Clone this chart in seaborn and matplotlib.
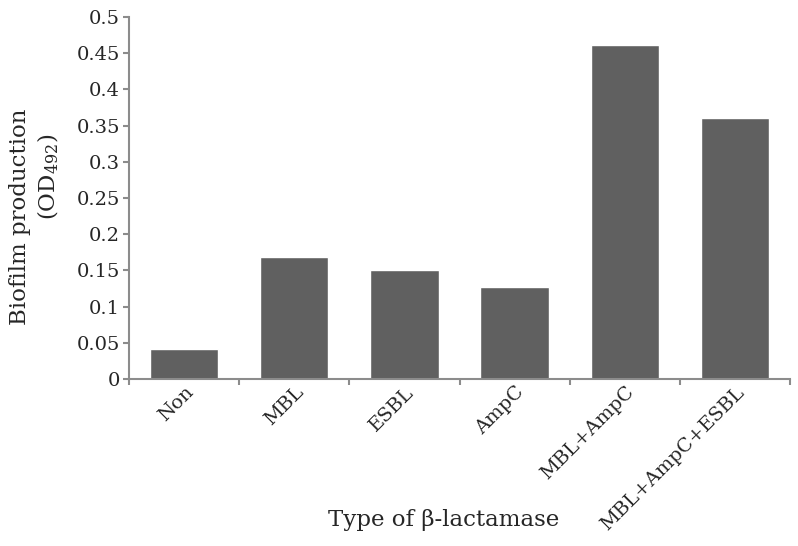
import numpy as np
import pandas as pd
import matplotlib
matplotlib.use('Agg')
import matplotlib.pyplot as plt
import matplotlib.transforms as mtransforms
import seaborn as sns

# ── Data ──────────────────────────────────────────────
categories = ['Non', 'MBL', 'ESBL', 'AmpC', 'MBL+AmpC', 'MBL+AmpC+ESBL']
biofilm_od = [0.042, 0.168, 0.151, 0.127, 0.461, 0.360]
y_ticks = [0, 0.05, 0.1, 0.15, 0.2, 0.25, 0.3, 0.35, 0.4, 0.45, 0.5]
y_tick_labels = ['0', '0.05', '0.1', '0.15', '0.2', '0.25', '0.3', '0.35', '0.4', '0.45', '0.5']

df = pd.DataFrame({'type': categories, 'od': biofilm_od})

sns.set_theme(style='white')
plt.rcParams['font.family'] = ['DejaVu Serif']
plt.rcParams['mathtext.fontset'] = 'dejavuserif'

axis_grey = '#8c8c8c'

fig = plt.figure(figsize=(7.98, 5.46), dpi=100)
ax = fig.add_axes([0.1617, 0.3059, 0.8283, 0.663])

sns.barplot(data=df, x='type', y='od', color='#606060', saturation=1,
            width=0.62, ax=ax)

ax.set_xlim(-0.5, len(categories) - 0.5)
ax.set_ylim(0, 0.5)
ax.set_yticks(y_ticks)
ax.set_yticklabels(y_tick_labels, fontsize=14)

# category labels at centres, tick marks at boundaries
ax.set_xticks(np.arange(len(categories)))
ax.set_xticklabels(categories, rotation=45, ha='right', rotation_mode='anchor',
                   fontsize=14)
shift = mtransforms.ScaledTranslation(12 / 100, 0, fig.dpi_scale_trans)
for lab in ax.get_xticklabels():
    lab.set_transform(lab.get_transform() + shift)
ax.set_xticks(np.arange(len(categories) + 1) - 0.5, minor=True)
ax.tick_params(axis='x', which='major', length=0, pad=3)
ax.tick_params(axis='x', which='minor', length=4.5, width=1.5, color=axis_grey,
               direction='out', bottom=True)
ax.tick_params(axis='y', length=4.5, width=1.5, color=axis_grey, direction='out',
               left=True, pad=2)

for side in ['top', 'right']:
    ax.spines[side].set_visible(False)
for side in ['left', 'bottom']:
    ax.spines[side].set_color(axis_grey)
    ax.spines[side].set_linewidth(1.5)

ax.set_xlabel('')
ax.set_ylabel('')
fig.text(444 / 798, 1 - 520 / 546, 'Type of β-lactamase', fontsize=16.5,
         ha='center', va='center')
fig.text(20 / 798, 1 - 217 / 546, 'Biofilm production', fontsize=16.5,
         rotation=90, ha='center', va='center')
fig.text(48 / 798, 1 - 177 / 546, '(OD$_{492}$)', fontsize=16.5,
         rotation=90, ha='center', va='center')

fig.savefig('out.png', dpi=100)
